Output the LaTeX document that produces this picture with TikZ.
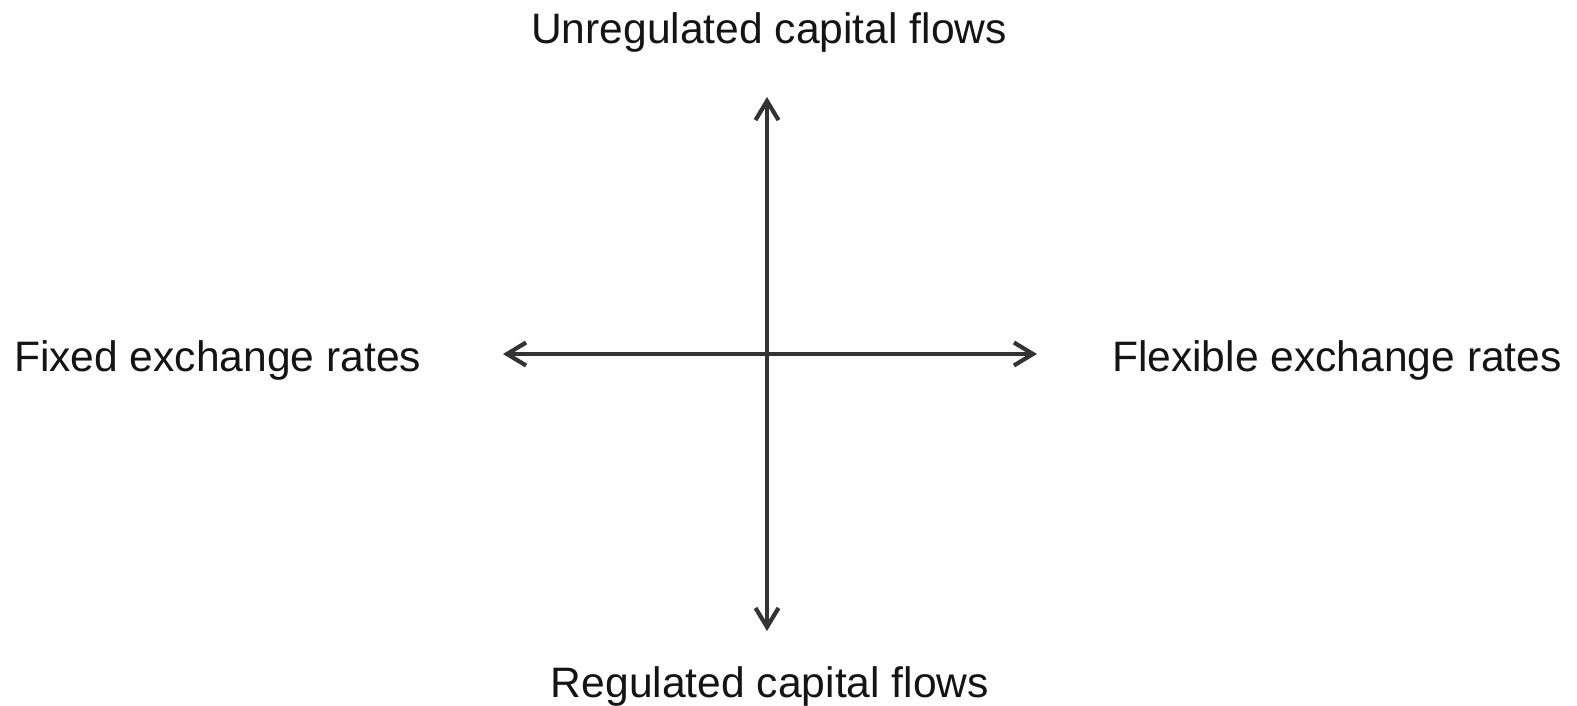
\documentclass[tikz,border=0pt]{standalone}
\usepackage{fontspec}
\setmainfont{Liberation Sans}
\usetikzlibrary{arrows.meta}
\definecolor{axisgray}{HTML}{333333}
\definecolor{txt}{HTML}{141414}
\begin{document}
\begin{tikzpicture}[x=1pt,y=-1pt,
  lbl/.style={inner sep=0pt,outer sep=0pt,text=txt,font=\fontsize{42.6}{50}\selectfont},
  axis/.style={draw=axisgray,line width=4pt,{Straight Barb[length=19pt,width=23pt,line width=4.2pt]}-{Straight Barb[length=19pt,width=23pt,line width=4.2pt]}}]
\useasboundingbox (0,0) rectangle (1577,705);
\coordinate (top) at (767,97);
\coordinate (bot) at (767,631);
\coordinate (lft) at (503,354);
\coordinate (rgt) at (1037,354);
\draw[axis] (bot) -- (top);
\draw[axis] (lft) -- (rgt);
\node[lbl,anchor=base] (unreg) at (769,43) {Unregulated capital flows};
\node[lbl,anchor=base] (reg) at (770,697) {Regulated capital flows};
\node[lbl,anchor=base west] (fixed) at (14,371) {Fixed exchange rates};
\node[lbl,anchor=base west] (flex) at (1112,371) {Flexible exchange rates};
\end{tikzpicture}
\end{document}
